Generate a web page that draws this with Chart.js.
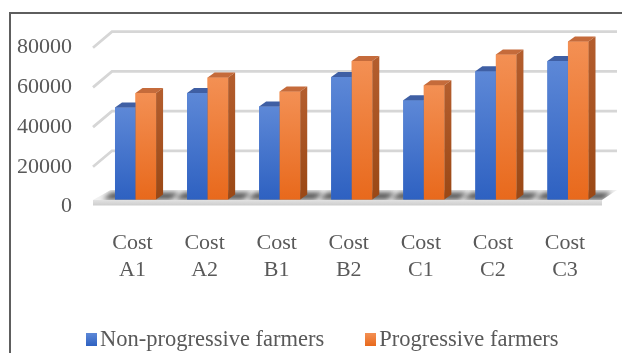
<!DOCTYPE html>
<html lang="en">
<head>
<meta charset="UTF-8">
<title>Cost of cultivation</title>
<script src="https://cdn.jsdelivr.net/npm/chart.js"></script>
<style>
  html, body { margin: 0; padding: 0; background: #fff; }
  #wrap { position: relative; width: 622px; height: 353px; overflow: hidden; }
  #legend { position: absolute; left: 86px; top: 326px; display: flex; align-items: center;
            font: 22.5px 'Liberation Serif', 'Times New Roman', serif; color: #595959; line-height: 26px; white-space: nowrap; }
  #legend .item { display: flex; align-items: center; }
  #legend .item + .item { margin-left: 41px; }
  #legend .swatch { width: 11px; height: 13px; margin-right: 3px; }
</style>
</head>
<body>
<div id="wrap">
  <canvas id="costChart" width="622" height="353"></canvas>
  <div id="legend"></div>
</div>
<script>
const categories = [['Cost', 'A1'], ['Cost', 'A2'], ['Cost', 'B1'], ['Cost', 'B2'], ['Cost', 'C1'], ['Cost', 'C2'], ['Cost', 'C3']];
const nonProgressive = [46300, 53600, 46800, 61700, 50000, 64600, 69800];
const progressive = [53600, 61400, 54400, 69800, 57600, 73100, 79600];
const yTicks = [0, 20000, 40000, 60000, 80000];
const seriesNames = ['Non-progressive farmers', 'Progressive farmers'];

const textColor = '#595959';
const serif = "'Liberation Serif', 'Times New Roman', serif";

// bar depth offsets (fake 3d)
const DX = 7, DY = -5;
const faces = [
    { top: '#5d88d7', bottom: '#2e61c1', cap: '#3f5fa4', side: ['#2d4f95', '#22407c'] },
    { top: '#f39054', bottom: '#e8691c', cap: '#c56b3b', side: ['#b35d2d', '#9a4815'] }
];

function poly(ctx, pts, fill) {
    ctx.beginPath();
    ctx.moveTo(pts[0][0], pts[0][1]);
    for (let i = 1; i < pts.length; i++) ctx.lineTo(pts[i][0], pts[i][1]);
    ctx.closePath();
    ctx.fillStyle = fill;
    ctx.fill();
}

const box3d = {
    id: 'box3d',
    beforeDraw(chart) {
        const ctx = chart.ctx;
        ctx.save();
        ctx.strokeStyle = '#5e5e5e';
        ctx.lineWidth = 2;
        ctx.beginPath();
        ctx.moveTo(10, 360);
        ctx.lineTo(10, 13);
        ctx.lineTo(630, 13);
        ctx.stroke();
        ctx.restore();
    },
    beforeDatasetsDraw(chart) {
        const ctx = chart.ctx;
        const area = chart.chartArea;
        const yScale = chart.scales.y;
        ctx.save();
        // back wall grid lines + side wall diagonals
        yTicks.slice(1).forEach(v => {
            const y = yScale.getPixelForValue(v);
            ctx.strokeStyle = '#d6d6d6';
            ctx.lineWidth = 2.8;
            ctx.beginPath();
            ctx.moveTo(area.left - 6.5, y + 7);
            ctx.lineTo(area.left + 12.5, y - 9);
            ctx.lineTo(area.right + 13, y - 9);
            ctx.stroke();
        });
        // floor
        const base = yScale.getPixelForValue(0);
        const floorTop = [[area.left - 6.5, base + 0.5], [area.right - 2, base + 0.5], [area.right + 13, base - 9.5], [area.left + 11, base - 9.5]];
        poly(ctx, floorTop, '#f0f0f0');
        const g = ctx.createLinearGradient(0, base + 0.5, 0, base + 6);
        g.addColorStop(0, '#e2e2e2');
        g.addColorStop(1, '#cdcdcd');
        poly(ctx, [[area.left - 6.5, base + 0.5], [area.right - 2, base + 0.5], [area.right - 2, base + 6], [area.left - 6.5, base + 6]], g);
        // soft shadows of the bars on the floor
        ctx.save();
        ctx.beginPath();
        floorTop.forEach((p, i) => i ? ctx.lineTo(p[0], p[1]) : ctx.moveTo(p[0], p[1]));
        ctx.closePath();
        ctx.clip();
        ctx.filter = 'blur(2.5px)';
        const m0 = chart.getDatasetMeta(0).data;
        const m1 = chart.getDatasetMeta(1).data;
        m0.forEach((b, i) => {
            const l = b.x - b.width / 2;
            const r = m1[i].x + m1[i].width / 2;
            poly(ctx, [[l - 12, base], [r + DX + 8, base], [r + DX + 16, base - 7], [l - 4, base - 7]], 'rgba(30,30,30,0.75)');
        });
        ctx.restore();
        ctx.restore();
    },
    afterDatasetsDraw(chart) {
        const ctx = chart.ctx;
        ctx.save();
        [0, 1].forEach(di => {
            const f = faces[di];
            chart.getDatasetMeta(di).data.forEach(bar => {
                const { x, y, base, width } = bar.getProps(['x', 'y', 'base', 'width'], true);
                const l = x - width / 2, r = x + width / 2;
                const fg = ctx.createLinearGradient(0, y, 0, base);
                fg.addColorStop(0, f.top);
                fg.addColorStop(1, f.bottom);
                poly(ctx, [[l, y], [r, y], [r, base], [l, base]], fg);
                poly(ctx, [[l, y], [r, y], [r + DX, y + DY], [l + DX, y + DY]], f.cap);
                const sg = ctx.createLinearGradient(0, y, 0, base);
                sg.addColorStop(0, f.side[0]);
                sg.addColorStop(1, f.side[1]);
                poly(ctx, [[r, y], [r + DX, y + DY], [r + DX, base + DY], [r, base]], sg);
            });
        });
        ctx.restore();
    }
};

// html legend built from the chart's datasets
const htmlLegend = {
    id: 'htmlLegend',
    afterUpdate(chart) {
        const el = document.getElementById('legend');
        el.innerHTML = '';
        chart.data.datasets.forEach((ds, i) => {
            const item = document.createElement('div');
            item.className = 'item';
            const sw = document.createElement('span');
            sw.className = 'swatch';
            sw.style.background = 'linear-gradient(' + faces[i].top + ', ' + faces[i].bottom + ')';
            const txt = document.createElement('span');
            txt.textContent = ds.label;
            item.appendChild(sw);
            item.appendChild(txt);
            el.appendChild(item);
        });
    }
};

new Chart(document.getElementById('costChart'), {
    type: 'bar',
    data: {
        labels: categories,
        datasets: [
            { label: seriesNames[0], data: nonProgressive, backgroundColor: '#4472c4' },
            { label: seriesNames[1], data: progressive, backgroundColor: '#ed7d31' }
        ]
    },
    options: {
        responsive: false,
        animation: false,
        categoryPercentage: 0.57,
        barPercentage: 1,
        layout: { padding: { left: 0, right: 18, top: 35, bottom: 0 } },
        plugins: {
            legend: { display: false },
            tooltip: { enabled: false }
        },
        scales: {
            x: {
                afterFit: s => { s.height = 153.5; },
                grid: { display: false, drawTicks: false },
                border: { display: false },
                ticks: {
                    padding: 30,
                    labelOffset: -3,
                    maxRotation: 0,
                    autoSkip: false,
                    color: textColor,
                    font: { family: serif, size: 22, lineHeight: 1.227 }
                }
            },
            y: {
                min: yTicks[0],
                max: yTicks[yTicks.length - 1],
                afterFit: s => { s.width = 99.5; },
                grid: { display: false, drawTicks: false },
                border: { display: false },
                ticks: {
                    stepSize: 20000,
                    format: { useGrouping: false },
                    padding: 27.5,
                    labelOffset: 7,
                    color: textColor,
                    font: { family: serif, size: 22 }
                }
            }
        }
    },
    plugins: [box3d, htmlLegend]
});
</script>
</body>
</html>
